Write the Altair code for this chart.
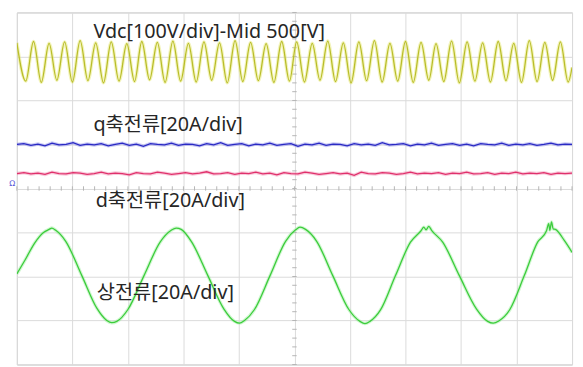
import altair as alt
import pandas as pd
import numpy as np

# ---- data (x in time divisions, y in vertical divisions) ----
vdc_t = [0.00, 0.16, 0.30, 0.44, 0.58, 0.72, 0.86, 1.00, 1.14, 1.28, 1.42, 1.56, 1.70, 1.84,
         1.98, 2.12, 2.25, 2.39, 2.53, 2.67, 2.81, 2.95, 3.09, 3.23, 3.37, 3.51, 3.65, 3.79,
         3.93, 4.07, 4.21, 4.35, 4.49, 4.63, 4.77, 4.91, 5.04, 5.18, 5.32, 5.46, 5.60, 5.74,
         5.88, 6.02, 6.16, 6.30, 6.44, 6.58, 6.72, 6.86, 7.00, 7.14, 7.28, 7.42, 7.55, 7.69,
         7.83, 7.97, 8.11, 8.25, 8.39, 8.53, 8.67, 8.81, 8.95, 9.09, 9.23, 9.37, 9.51, 9.65,
         9.79, 9.93, 10.00]
vdc_v = [3.31, 2.44, 3.34, 2.41, 3.30, 2.46, 3.33, 2.42, 3.36, 2.45, 3.31, 2.40, 3.33, 2.44,
         3.29, 2.43, 3.34, 2.47, 3.32, 2.41, 3.35, 2.44, 3.30, 2.42, 3.33, 2.46, 3.31, 2.40,
         3.36, 2.43, 3.32, 2.45, 3.29, 2.41, 3.34, 2.44, 3.33, 2.42, 3.30, 2.46, 3.35, 2.43,
         3.31, 2.40, 3.33, 2.45, 3.36, 2.42, 3.30, 2.44, 3.34, 2.41, 3.32, 2.46, 3.29, 2.43,
         3.35, 2.40, 3.33, 2.44, 3.31, 2.42, 3.34, 2.45, 3.30, 2.41, 3.36, 2.43, 3.32, 2.46,
         3.33, 2.42, 2.75]

q_v = [1.00, 1.02, 0.98, 1.01, 0.97, 1.03, 0.99, 1.00, 1.04, 0.98, 1.01, 0.99, 1.02, 0.97,
       1.00, 1.03, 0.98, 1.01, 0.96, 1.02, 1.00, 0.99, 1.03, 0.98, 1.01, 1.00, 0.97, 1.02,
       0.99, 1.04, 0.98, 1.00, 1.02, 0.97, 1.01, 0.99, 1.03, 0.98, 1.00, 1.02, 0.96, 1.01,
       0.99, 1.03, 0.98, 1.01, 1.00, 0.97, 1.02, 0.99, 1.01, 0.98, 1.04, 0.99, 1.00, 1.02,
       0.97, 1.01, 0.99, 1.03, 0.98, 1.00, 1.02, 0.98, 1.01, 0.97, 1.02, 1.00, 0.99, 1.03,
       0.98, 1.01, 0.99, 1.02, 0.98, 1.00, 1.03, 0.99, 1.01, 1.00]
d_v = [0.34, 0.36, 0.33, 0.35, 0.32, 0.37, 0.34, 0.33, 0.36, 0.35, 0.32, 0.34, 0.37, 0.33,
       0.35, 0.34, 0.31, 0.36, 0.34, 0.33, 0.37, 0.35, 0.32, 0.34, 0.36, 0.33, 0.35, 0.38,
       0.33, 0.34, 0.36, 0.32, 0.35, 0.34, 0.37, 0.33, 0.35, 0.31, 0.36, 0.34, 0.33, 0.37,
       0.35, 0.32, 0.34, 0.36, 0.33, 0.35, 0.30, 0.37, 0.34, 0.33, 0.36, 0.35, 0.32, 0.34,
       0.37, 0.33, 0.35, 0.34, 0.36, 0.32, 0.35, 0.34, 0.37, 0.33, 0.34, 0.36, 0.32, 0.35,
       0.34, 0.37, 0.33, 0.35, 0.34, 0.36, 0.32, 0.35, 0.34, 0.35]

ph_t = [0.00, 0.15, 0.32, 0.48, 0.58, 0.63, 0.70, 0.88, 1.17, 1.44, 1.62, 1.71, 1.80, 2.00,
        2.29, 2.58, 2.78, 2.87, 2.96, 3.15, 3.44, 3.73, 3.92, 4.01, 4.10, 4.28, 4.56, 4.84,
        5.02, 5.10, 5.20, 5.40, 5.69, 5.98, 6.18, 6.27, 6.36, 6.55, 6.82, 7.09, 7.28, 7.33,
        7.37, 7.42, 7.47, 7.67, 7.97, 8.28, 8.48, 8.58, 8.68, 8.88, 9.14, 9.38, 9.54, 9.58,
        9.60, 9.63, 9.66, 9.70, 9.86, 10.00]
ph_v = [-1.94, -1.62, -1.24, -1.00, -0.93, -0.90, -0.95, -1.20, -1.98, -2.72, -3.00, -3.05,
        -3.02, -2.75, -1.98, -1.22, -0.95, -0.90, -0.93, -1.22, -1.98, -2.74, -3.02, -3.06,
        -3.00, -2.75, -1.98, -1.20, -0.94, -0.88, -0.93, -1.20, -1.98, -2.75, -3.02, -3.07,
        -3.02, -2.76, -1.98, -1.22, -0.96, -0.88, -0.94, -0.86, -0.95, -1.22, -1.98, -2.74,
        -3.02, -3.06, -3.01, -2.75, -1.98, -1.22, -0.96, -0.80, -0.95, -0.76, -0.92, -0.93,
        -1.18, -1.45]

labels = ["Vdc[100V/div]-Mid 500[V]", "q축전류[20A/div]", "d축전류[20A/div]", "상전류[20A/div]"]

# ---- tables ----
vdc = pd.DataFrame({"t": vdc_t, "v": vdc_v})
q = pd.DataFrame({"t": np.linspace(0, 10, len(q_v)), "v": q_v})
d = pd.DataFrame({"t": np.linspace(0, 10, len(d_v)), "v": d_v})
ph = pd.DataFrame({"t": ph_t, "v": ph_v})
ann = pd.DataFrame({"t": [1.38, 1.38, 1.42, 1.44], "v": [3.42, 1.30, -0.42, -2.51], "label": labels})

xs = alt.Scale(domain=[0, 10], nice=False, zero=False)
ys = alt.Scale(domain=[-4, 4], nice=False, zero=False)
xax = alt.Axis(title=None, labels=False, ticks=False, domain=False, grid=True,
               gridColor="#dadada", gridWidth=1, values=list(range(0, 11)))
yax = alt.Axis(title=None, labels=False, ticks=False, domain=False, grid=True,
               gridColor="#dadada", gridWidth=1, values=list(range(-4, 5)))
X = alt.X("t:Q", scale=xs, axis=xax)
Y = alt.Y("v:Q", scale=ys, axis=yax)


def trace(df, core, halo, interp="linear", w=1.3):
    h = alt.Chart(df).mark_line(color=halo, strokeWidth=w + 2.2, opacity=0.45,
                                interpolate=interp, clip=True).encode(x=X, y=Y)
    c = alt.Chart(df).mark_line(color=core, strokeWidth=w, interpolate=interp,
                                clip=True).encode(x=X, y=Y)
    return h + c


# reticle ticks on the centre lines
hticks = pd.DataFrame({"t": np.arange(0, 10.01, 0.2)})
vticks = pd.DataFrame({"v": np.arange(-4, 4.01, 0.2)})
ht = alt.Chart(hticks).mark_rule(color="#b5b5b5", strokeWidth=1).encode(
    x=X, y=alt.Y(datum=-0.05, scale=ys, axis=yax), y2=alt.Y2(datum=0.05))
vt = alt.Chart(vticks).mark_rule(color="#b5b5b5", strokeWidth=1).encode(
    y=Y, x=alt.X(datum=4.96, scale=xs, axis=xax), x2=alt.X2(datum=5.04))

text = alt.Chart(ann).mark_text(align="left", baseline="alphabetic", fontSize=20,
                                font="Noto Sans, Noto Sans CJK KR", color="#262626").encode(
    x=X, y=Y, text="label:N")

# small channel marker left of the centre line
marker = alt.Chart(pd.DataFrame({"t": [-0.085], "v": [0.06], "m": ["Ω"]})).mark_text(
    align="center", baseline="alphabetic", fontSize=8, color="#5a5ad8",
    font="DejaVu Sans").encode(x=X, y=Y, text="m:N")

chart = alt.layer(
    ht, vt,
    trace(vdc, "#b9bd2a", "#e4e66a", "monotone", 1.3),
    trace(q, "#2a2ac4", "#8a8ae8"),
    trace(d, "#e0306c", "#f08aac"),
    trace(ph, "#3ccc3c", "#99ee99", "monotone", 1.3),
    text, marker,
).properties(
    width=563, height=357,
    autosize=alt.AutoSizeParams(type="none"),
    padding={"left": 9, "top": 2, "right": 3, "bottom": 0},
    background="white",
).configure_view(stroke="#c4c4c4", strokeWidth=1)

chart.save("out.html", embed_options={"renderer": "svg", "actions": False})
